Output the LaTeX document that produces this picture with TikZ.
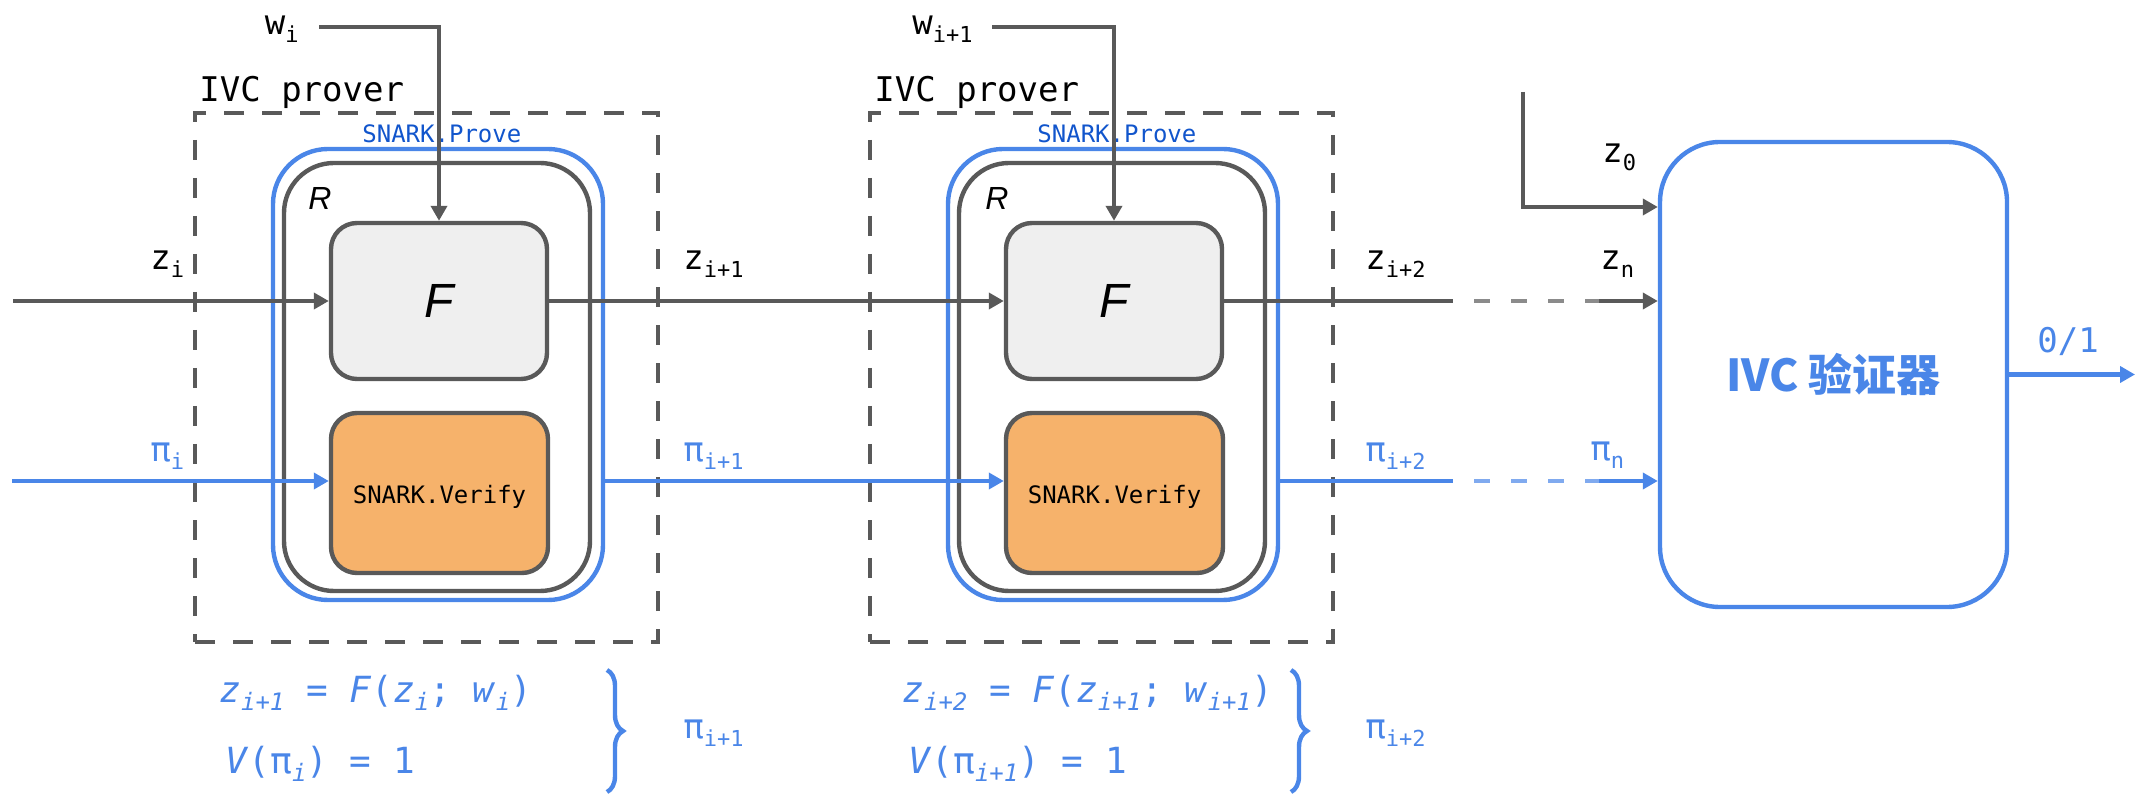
\documentclass[tikz,border=0pt]{standalone}
\usepackage{fontspec}
\setmainfont{Liberation Sans}
\setsansfont{Liberation Sans}
\newfontfamily\mono{DejaVu Sans Mono}
\newfontfamily\cjk{Noto Sans CJK SC}
\usetikzlibrary{arrows.meta,decorations.pathreplacing}
\definecolor{dg}{HTML}{595959}
\definecolor{bl}{HTML}{4A86E8}
\definecolor{dbl}{HTML}{1155CC}
\definecolor{org}{HTML}{F6B26B}
\definecolor{lg}{HTML}{EFEFEF}
\newcommand\lsub[1]{\raisebox{-4pt}{\fontsize{11}{11}\selectfont #1}}
\newcommand\esub[1]{\raisebox{-4pt}{\fontsize{12}{12}\selectfont\itshape #1}}
\begin{document}
\begin{tikzpicture}[x=0.5pt,y=-0.5pt,
  lw/.style={line width=2.2pt},
  gline/.style={draw=dg, lw},
  bline/.style={draw=bl, lw},
  arr/.style={-{Triangle[length=7.5pt,width=8pt]}},
  dashbox/.style={draw=dg, lw, dash pattern=on 10pt off 9pt, minimum width=231.5pt, minimum height=264.5pt, inner sep=0pt},
  provebox/.style={draw=bl, lw, rounded corners=27.5pt, minimum width=165pt, minimum height=225.5pt, inner sep=0pt},
  relbox/.style={draw=dg, lw, rounded corners=25pt, minimum width=153pt, minimum height=214pt, inner sep=0pt},
  fnbox/.style={draw=dg, fill=lg, lw, rounded corners=13pt, minimum width=108pt, minimum height=78pt, inner sep=0pt, font=\sffamily\itshape\fontsize{24}{24}\selectfont},
  svbox/.style={draw=dg, fill=org, lw, rounded corners=13pt, minimum width=108.5pt, minimum height=80pt, inner sep=0pt},
  svtext/.style={inner sep=0pt, font=\mono\fontsize{12}{12}\selectfont},
  verbox/.style={draw=bl, fill=white, lw, rounded corners=30pt, minimum width=173.5pt, minimum height=232.5pt, inner sep=0pt, text=bl, font=\cjk\bfseries\fontsize{22}{22}\selectfont},
  lbl/.style={inner sep=0pt, anchor=base west, font=\mono\fontsize{17}{17}\selectfont},
  blbl/.style={lbl, text=bl},
  eqn/.style={inner sep=0pt, anchor=base west, text=bl, font=\mono\fontsize{18}{18}\selectfont},
  prv/.style={inner sep=0pt, anchor=base west, text=dbl, font=\mono\fontsize{12}{12}\selectfont},
  rl/.style={inner sep=0pt, anchor=base west, font=\sffamily\itshape\fontsize{16}{16}\selectfont},
  brc/.style={draw=bl, lw, decorate, decoration={brace, amplitude=8pt}},
  fadedash/.style={dash pattern=on 8pt off 10.5pt, dash phase=8pt}
]
\useasboundingbox (0,0) rectangle (2139,801);

% boxes
\node[dashbox] (D1) at (426.5,377.5) {};
\node[dashbox] (D2) at (1101.5,377.5) {};
\node[provebox] (P1) at (438,374.5) {};
\node[provebox] (P2) at (1113,374.5) {};
\node[relbox] (R1) at (437,377) {};
\node[relbox] (R2) at (1112,377) {};
\node[fnbox] (F1) at (439,301) {F};
\node[fnbox] (F2) at (1114,301) {F};
\node[svbox] (S1) at (439.5,493) {};
\node[svbox] (S2) at (1114.5,493) {};
\node[svtext] (ST1) at (439.5,497) {SNARK.Verify};
\node[svtext] (ST2) at (1114.5,497) {SNARK.Verify};
\node[verbox] (V) at (1833.5,374.5) {IVC 验证器};

% labels
\node[lbl] (IP1) at (199,102) {IVC prover};
\node[lbl] (IP2) at (874,102) {IVC prover};
\node[prv] (SP1) at (362,143) {SNARK.Prove};
\node[prv] (SP2) at (1037,143) {SNARK.Prove};
\node[rl] (RL1) at (308,210) {R};
\node[rl] (RL2) at (985,210) {R};
\node[lbl, anchor=base east] (WL1) at (299,35) {w\lsub{i}};
\node[lbl, anchor=base east] (WL2) at (973,35) {w\lsub{i+1}};
\node[lbl] (ZL1) at (150,270) {z\lsub{i}};
\node[lbl] (ZL2) at (683,270) {z\lsub{i+1}};
\node[lbl] (ZL3) at (1365,270) {z\lsub{i+2}};
\node[lbl] (ZLn) at (1600,270) {z\lsub{n}};
\node[lbl] (ZL0) at (1602,163) {z\lsub{0}};
\node[blbl] (PL1) at (150,462) {π\lsub{i}};
\node[blbl] (PL2) at (683,462) {π\lsub{i+1}};
\node[blbl] (PL3) at (1365,462) {π\lsub{i+2}};
\node[blbl] (PLn) at (1590,460) {π\lsub{n}};
\node[blbl] (OUTL) at (2037,353) {0/1};

% equations
\node[eqn] (E1a) at (219,702) {\textit{z}\esub{i+1} = \textit{F}(\textit{z}\esub{i}; \textit{w}\esub{i})};
\node[eqn] (E1b) at (225,773) {\textit{V}(π\esub{i}) = 1};
\node[eqn] (E2a) at (902,702) {\textit{z}\esub{i+2} = \textit{F}(\textit{z}\esub{i+1}; \textit{w}\esub{i+1})};
\node[eqn] (E2b) at (908,773) {\textit{V}(π\esub{i+1}) = 1};
\coordinate (b1t) at (607,670);
\coordinate (b1b) at (607,792);
\coordinate (b2t) at (1291,670);
\coordinate (b2b) at (1291,792);
\draw[brc] (b1t) -- (b1b);
\draw[brc] (b2t) -- (b2b);
\node[blbl] (BL1) at (683,738) {π\lsub{i+1}};
\node[blbl] (BL2) at (1365,738) {π\lsub{i+2}};

% connectors
\coordinate (zin) at (13,301);
\coordinate (pin) at (12,481);
\coordinate (w1s) at (319,27);
\coordinate (w2s) at (992,27);
\coordinate (zd1) at (1453,301);
\coordinate (zd2) at (1599,301);
\coordinate (pd1) at (1453,481);
\coordinate (pd2) at (1599,481);
\coordinate (z0s) at (1523,92);
\coordinate (z0c) at (1523,207);
\coordinate (out) at (2135,374.5);

\draw[gline, arr] (zin) -- (F1.west);
\draw[gline, arr] (F1.east) -- (F2.west);
\draw[gline] (F2.east) -- (zd1);
\draw[draw=dg!70, lw, fadedash] (zd1) -- (zd2);
\draw[gline, arr] (zd2) -- (zd2 -| V.west);
\draw[bline, arr] (pin) -- (pin -| S1.west);
\draw[bline, arr] (pin -| P1.east) -- (pin -| S2.west);
\draw[bline] (pin -| P2.east) -- (pd1);
\draw[draw=bl!70, lw, fadedash] (pd1) -- (pd2);
\draw[bline, arr] (pd2) -- (pd2 -| V.west);
\draw[gline, arr] (w1s) -| (F1.north);
\draw[gline, arr] (w2s) -| (F2.north);
\draw[gline, arr] (z0s) -- (z0c) -- (z0c -| V.west);
\draw[bline, arr] (V.east) -- (out);
\end{tikzpicture}
\end{document}
